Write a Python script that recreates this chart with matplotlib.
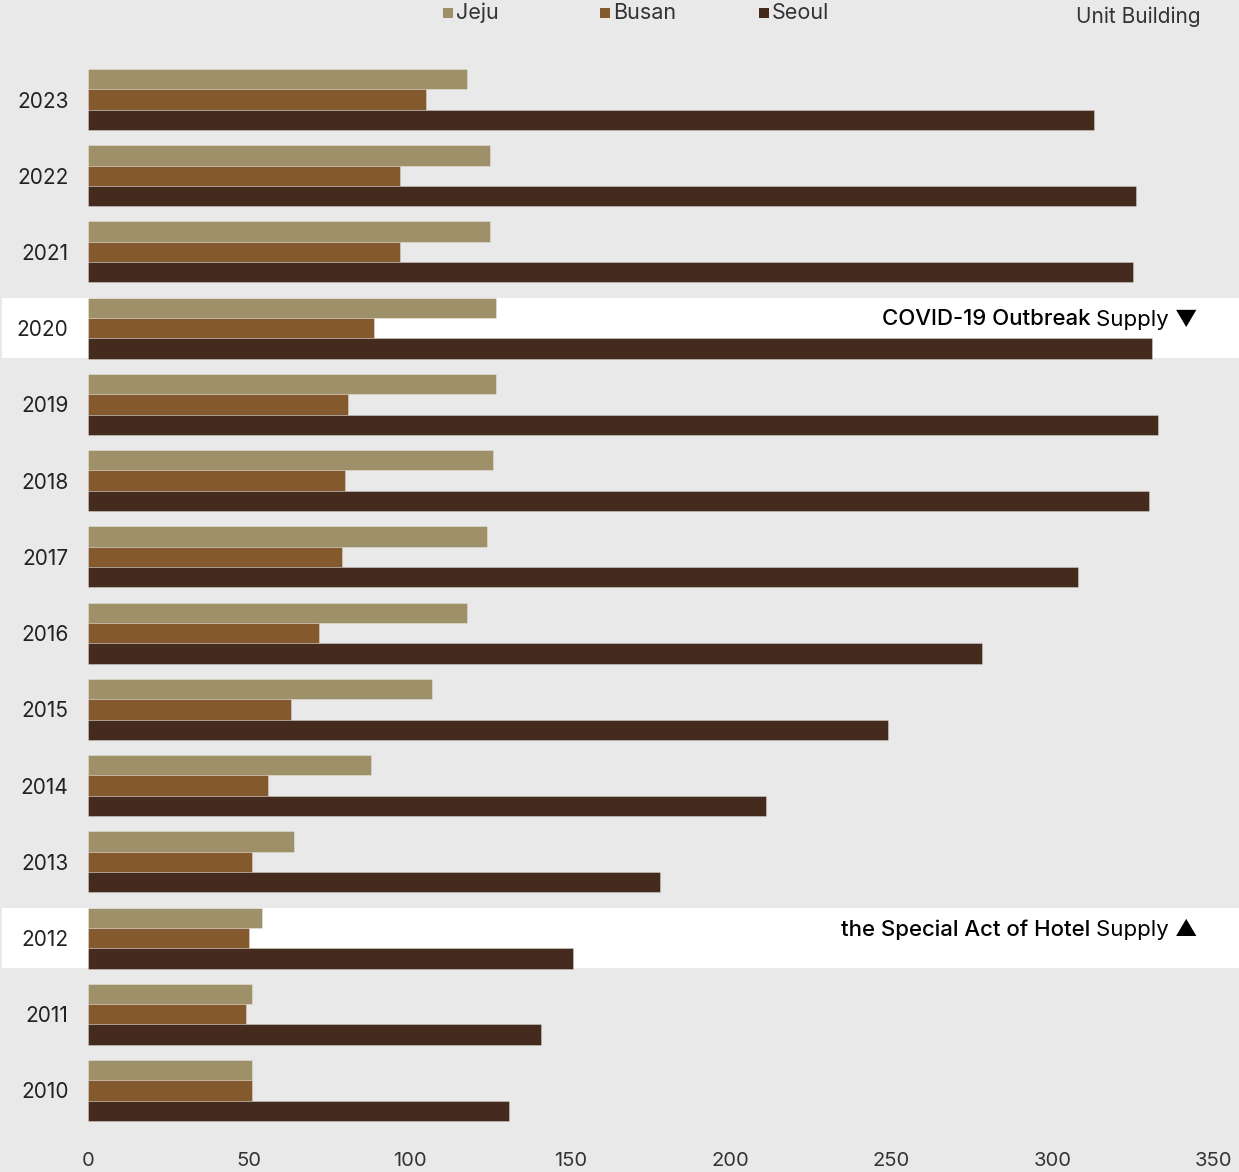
import matplotlib.pyplot as plt
from matplotlib.patches import Rectangle
from matplotlib.transforms import blended_transform_factory

years = [2010, 2011, 2012, 2013, 2014, 2015, 2016, 2017, 2018, 2019, 2020, 2021, 2022, 2023]
jeju = [51, 51, 54, 64, 88, 107, 118, 124, 126, 127, 127, 125, 125, 118]
busan = [51, 49, 50, 51, 56, 63, 72, 79, 80, 81, 89, 97, 97, 105]
seoul = [131, 141, 151, 178, 211, 249, 278, 308, 330, 333, 331, 325, 326, 313]
x_ticks = [0, 50, 100, 150, 200, 250, 300, 350]

series = [("Jeju", jeju, "#9e9068"), ("Busan", busan, "#84592e"), ("Seoul", seoul, "#452b1d")]
highlights = {2020: "COVID-19 Outbreak", 2012: "the Special Act of Hotel"}
highlight_arrows = {2020: "\u25BC", 2012: "\u25B2"}

plt.rcParams['font.family'] = ['Inter', 'DejaVu Sans']
bg = "#e9e9e9"

W, H = 1239, 1172
fig = plt.figure(figsize=(W / 100, H / 100), dpi=100, facecolor=bg)
ax = fig.add_axes([88 / W, (H - 1145) / H, (W - 88) / W, 1145 / H])
ax.set_facecolor("none")

h = 0.267
pos = list(range(len(years)))

# white bands behind highlighted years, spanning whole figure width
band_tr = blended_transform_factory(fig.transFigure, ax.transData)
for yr in highlights:
    i = years.index(yr)
    ax.add_patch(Rectangle((2 / W, i - 0.39), 1, 0.78, transform=band_tr,
                           facecolor="white", edgecolor="none", clip_on=False, zorder=0))

for k, (name, vals, col) in enumerate(series):
    ax.barh([p + h * (1 - k) for p in pos], vals, height=h, color=col,
            edgecolor=(1, 1, 1, 0.35), linewidth=0.6, zorder=2)

ax.set_xlim(0, 350 * (W - 88) / 1125)
ax.set_ylim(-0.715, len(years) - 1 + 99.5 / 76.23)
ax.set_xticks(x_ticks)
ax.set_xticklabels([str(t) for t in x_ticks], fontsize=14.5, color="#333333")
ax.set_yticks(pos)
ax.set_yticklabels([str(y) for y in years], fontsize=15, color="#222222")
ax.tick_params(axis="both", length=0)
ax.tick_params(axis="y", pad=14)
ax.tick_params(axis="x", pad=5)
for s in ax.spines.values():
    s.set_visible(False)

# legend drawn manually at top
leg_x = [443, 600, 759]
for (name, vals, col), lx in zip(series, leg_x):
    fig.patches.append(Rectangle((lx / W, 1 - 18 / H), 10 / W, 10 / H, transform=fig.transFigure,
                                 facecolor=col, edgecolor="none"))
    fig.text((lx + 13) / W, 1 - 13 / H, name, fontsize=15.5, color="#333333", va="center", ha="left")

fig.text(1201 / W, 1 - 17 / H, "Unit Building", fontsize=15, color="#333333", va="center", ha="right")

fig.canvas.draw()
renderer = fig.canvas.get_renderer()
for yr, label in highlights.items():
    i = years.index(yr)
    ty = i + 0.115
    t1 = ax.text(1198 / W, ty, "Supply " + highlight_arrows[yr], transform=band_tr,
                 fontsize=16, color="black", ha="right", va="center", zorder=3)
    bb = t1.get_window_extent(renderer)
    ax.text((bb.x0 - 6) / W, ty, label, transform=band_tr, fontsize=16, color="black",
            fontweight="medium", ha="right", va="center", zorder=3)

fig.savefig("out.png", dpi=100, facecolor=bg)
